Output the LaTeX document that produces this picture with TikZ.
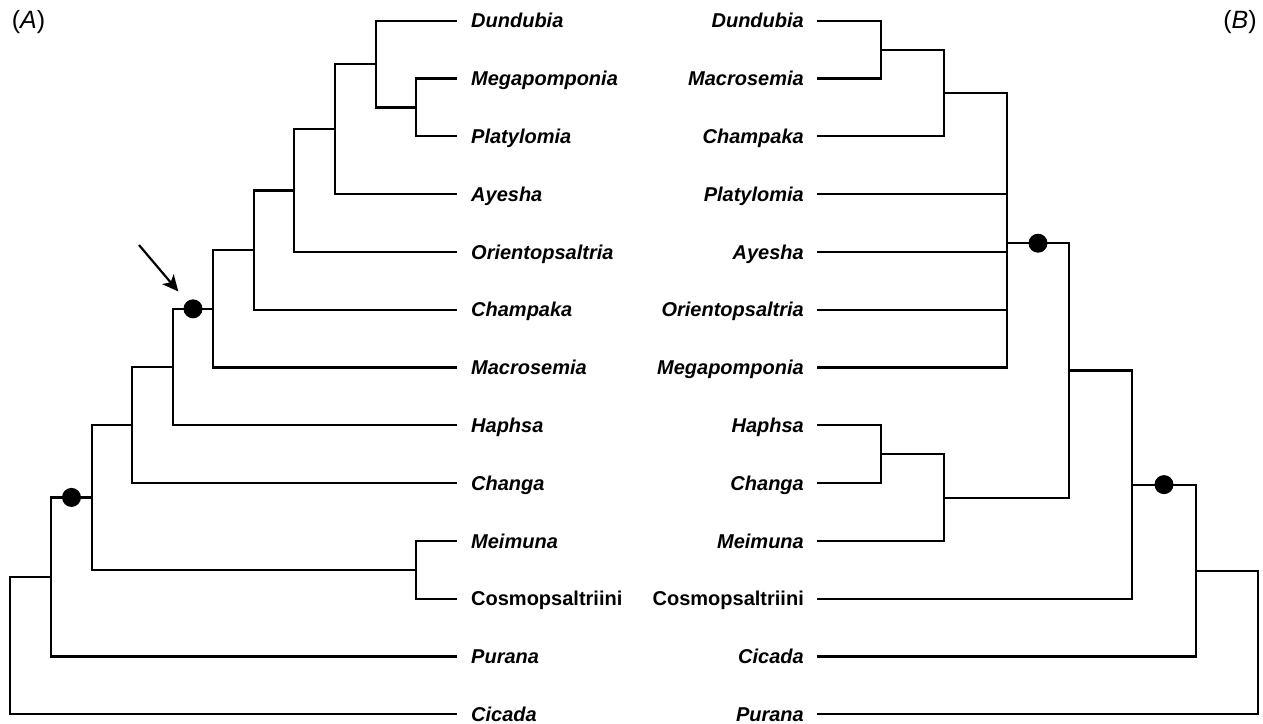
\documentclass[tikz,border=0pt]{standalone}
\usepackage{fontspec}
\setmainfont{Liberation Sans}
\usetikzlibrary{
	arrows.meta,
	calc,
	positioning
}

\begin{document}
\begin{tikzpicture}[x=1pt,y=-1pt,
		branch/.style={line width=2.2pt},
		taxon/.style={font=\fontsize{20}{24}\selectfont\bfseries\itshape,inner sep=0pt,text height=14.3pt,text depth=0pt},
		dot/.style={circle,fill,inner sep=0pt,minimum size=19pt}]
		\useasboundingbox (0,0) rectangle (1263,723);
		
		% (A) 叶节点
		\foreach \t [count=\i from 0] in {Dundubia,Megapomponia,Platylomia,Ayesha,Orientopsaltria,Champaka,Macrosemia,Haphsa,Changa,Meimuna,{\upshape Cosmopsaltriini},Purana,Cicada}
		{
			\coordinate (a\i) at (457,{20.7+57.8*\i});
			\node[taxon,right=14pt of a\i] (ta\i) {\t};
		}
		
		% (B) 叶节点
		\foreach \t [count=\i from 0] in {Dundubia,Macrosemia,Champaka,Platylomia,Ayesha,Orientopsaltria,Megapomponia,Haphsa,Changa,Meimuna,{\upshape Cosmopsaltriini},Cicada,Purana}
		{
			\coordinate (b\i) at (817,{20.7+57.8*\i});
			\node[taxon,left=13pt of b\i] (tb\i) {\t};
		}
		
		% (A) 内部节点
		\coordinate (A1) at (416,107.4);
		\coordinate (A2) at (376,64.05);
		\coordinate (A3) at (335,129.1);
		\coordinate (A4) at (294,190.5);
		\coordinate (A5) at (254,250.1);
		\coordinate (A6) at (213,308.8);
		\coordinate (A7) at (173,367.05);
		\coordinate (A8) at (132,425.1);
		\coordinate (A9) at (416,569.8);
		\coordinate (A10) at (92,497.4);
		\coordinate (A11) at (51,577);
		\coordinate (A12) at (10,645.6);
		
		% (B) 内部节点
		\coordinate (B1) at (881,49.6);
		\coordinate (B2) at (944,93);
		\coordinate (B3) at (1007,243.2);
		\coordinate (B4) at (881,454.2);
		\coordinate (B5) at (944,497.6);
		\coordinate (B6) at (1069,370.4);
		\coordinate (B7) at (1132,484.6);
		\coordinate (B8) at (1196,570.6);
		\coordinate (B9) at (1258,642.5);
		
		% 分支
		\foreach \p/\c in {A1/a1,A1/a2,A2/a0,A2/A1,A3/A2,A3/a3,A4/A3,A4/a4,A5/A4,A5/a5,A6/A5,A6/a6,A7/A6,A7/a7,A8/A7,A8/a8,A9/a9,A9/a10,A10/A8,A10/A9,A11/A10,A11/a11,A12/A11,A12/a12}
		\draw[branch] (\p) |- (\c);
		\foreach \p/\c in {B1/b0,B1/b1,B2/B1,B2/b2,B3/B2,B3/b3,B3/b4,B3/b5,B3/b6,B4/b7,B4/b8,B5/B4,B5/b9,B6/B3,B6/B5,B7/B6,B7/b10,B8/B7,B8/b11,B9/B8,B9/b12}
		\draw[branch] (\p) |- (\c);
		
		% 圆点
		\node[dot] (dA1) at ($(A7 |- A6)!.5!(A6)$) {};
		\node[dot] (dA2) at ($(A11 |- A10)!.5!(A10)$) {};
		\node[dot] (dB1) at ($(B3)!.5!(B6 |- B3)$) {};
		\node[dot] (dB2) at ($(B7)!.5!(B8 |- B7)$) {};
		
		% 箭头
		\coordinate (arr) at (139,245);
		\draw[line width=2.2pt,-{Stealth[length=16pt,width=15pt,inset=4pt]},shorten >=13pt] (arr) -- (dA1);
		
		% 图标
		\node[font=\fontsize{25}{30}\selectfont] (labA) at (28.5,22.5) {(\textit{A})};
		\node[font=\fontsize{25}{30}\selectfont] (labB) at (1240,22.5) {(\textit{B})};
	\end{tikzpicture}
\end{document}
